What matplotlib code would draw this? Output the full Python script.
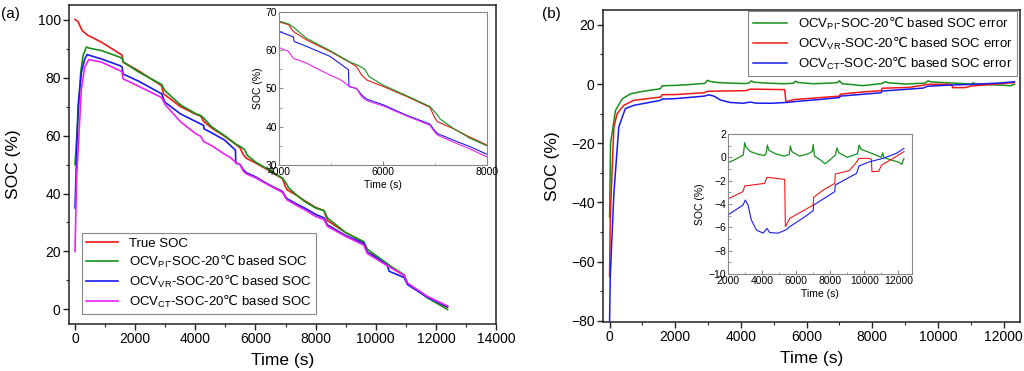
import numpy as np
import matplotlib
matplotlib.use('Agg')
import matplotlib.pyplot as plt
from matplotlib.ticker import MultipleLocator

# --- Fonts ---
plt.rcParams['font.family'] = ['Liberation Sans', 'DejaVu Sans']
plt.rcParams['mathtext.fontset'] = 'custom'
plt.rcParams['mathtext.rm'] = 'Liberation Sans'
plt.rcParams['mathtext.it'] = 'Liberation Sans:italic'
plt.rcParams['mathtext.bf'] = 'Liberation Sans:bold'
plt.rcParams['mathtext.sf'] = 'DejaVu Sans'   # only used for the degree-Celsius sign
plt.rcParams['mathtext.default'] = 'rm'

# --- Colours (Origin style) ---
RED = '#f01818'
GREEN = '#16901a'
BLUE = '#1a1af0'
MAGENTA = '#f020f0'

# --- Panel (a): SOC estimates ---
t_true = [0, 100, 233, 433, 878, 1489, 1560, 1600, 2100, 2878, 2940, 3500, 4000,
          4180, 4275, 4530, 4980, 5365, 5490, 5590, 5690, 6010, 6455, 6900, 7000,
          7050, 7350, 7670, 8000, 8278, 8389, 9000, 9600, 9720, 10000, 10500,
          10944, 11056, 11722, 12389]
soc_true = [100, 99.3, 96.2, 94.5, 92.2, 88.2, 87.8, 85.3, 82.4, 77.2, 74.4, 70.0, 67.4,
            66.7, 64.9, 62.7, 59.7, 56.8, 55.7, 53.5, 52.2, 50.5, 47.9, 45.1, 42.2,
            41.3, 39.5, 37.3, 35.2, 34.1, 30.7, 26.5, 23.2, 19.8, 18.3, 14.6,
            11.7, 8.8, 4.3, 0.8]

t_pi = [0, 78, 189, 267, 378, 478, 878, 1489, 1560, 1620, 2100, 2878, 2980, 3500,
        4000, 4180, 4290, 4530, 4980, 5365, 5530, 5650, 5725, 6010, 6455, 6900,
        7040, 7100, 7350, 7670, 8000, 8278, 8400, 9000, 9600, 9720, 10000, 10500,
        10944, 11056, 11722, 12389]
soc_pi = [50, 63, 81.8, 87.6, 90.5, 90.1, 89.3, 87.0, 86.6, 85.2, 82.0, 77.6, 75.6, 70.6,
          67.6, 66.9, 65.9, 63.1, 59.9, 56.9, 56.0, 55.0, 53.2, 50.8, 48.1, 45.3,
          43.2, 42.0, 39.6, 37.0, 35.0, 34.1, 31.5, 26.5, 23.4, 20.8, 18.7, 14.9,
          12.0, 9.0, 4.0, 0.0]

t_vr = [0, 100, 211, 322, 400, 878, 1489, 1560, 1600, 2100, 2878, 2989, 3500, 4000,
        4275, 4290, 4530, 4980, 5335, 5345, 5490, 5590, 5690, 6010, 6455, 6900,
        7000, 7050, 7350, 7670, 8000, 8278, 8389, 9000, 9600, 9720, 10000, 10380,
        10444, 10944, 11056, 11722, 12389]
soc_vr = [35, 70, 81.8, 86.4, 87.9, 86.4, 84.1, 83.7, 81.2, 78.8, 74.4, 71.5, 67.5, 64.9,
          63.5, 62.3, 61.0, 58.4, 54.9, 50.5, 50.0, 48.3, 47.2, 45.7, 43.0, 40.7,
          38.9, 38.2, 36.5, 34.8, 32.8, 31.6, 29.2, 25.5, 22.8, 19.7, 18.0, 15.3,
          13.2, 11.0, 8.6, 4.2, 0.9]

t_ct = [0, 50, 211, 322, 456, 878, 1489, 1560, 1600, 1833, 2878, 3000, 3500, 4000,
        4180, 4275, 4530, 4980, 5167, 5365, 5490, 5590, 5690, 6010, 6455, 6900,
        7000, 7050, 7350, 7670, 8000, 8278, 8389, 9000, 9600, 9720, 10000, 10500,
        10944, 11056, 11722, 12389]
soc_ct = [20, 45, 76, 83.6, 86.2, 85.3, 82.4, 82.0, 79.5, 78.4, 73.1, 70.6, 64.8, 60.7,
          59.7, 57.9, 56.6, 53.5, 52.4, 50.5, 50.0, 47.8, 46.8, 45.4, 42.8, 40.4,
          38.5, 37.8, 36.0, 34.2, 32.1, 31.0, 28.7, 25.2, 22.2, 19.3, 17.5, 14.4,
          11.8, 9.1, 4.5, 1.2]

# --- Panel (b): SOC errors ---
t_err_pi = [0, 30, 180, 385, 640, 1000, 1550, 1600, 2000, 2400, 2900, 2980, 3050, 3300,
            3800, 4150, 4250, 4310, 4400, 4800, 5300, 5600, 5660, 5750, 6200, 6700,
            6950, 7000, 7080, 7400, 7700, 8000, 8300, 8400, 8500, 9000, 9600, 9700,
            9800, 10500, 11000, 11080, 11150, 11500, 12000, 12200, 12330]
err_pi = [-45, -20, -8.9, -5, -3.3, -2.5, -1.6, -0.6, -0.46, -0.2, 0.2, 1.26, 0.9, 0.5,
          0.25, 0.15, 0.4, 1.06, 0.6, 0.3, 0.1, 0.25, 0.97, 0.5, 0.1, 0.3,
          0.5, 1.1, 0.1, -0.2, -0.55, -0.2, 0.2, 0.8, 0.4, 0.0, 0.3, 1.06,
          0.7, 0.3, 0.0, 0.4, 0.0, -0.2, -0.4, -0.6, -0.1]

t_err_vr = [0, 20, 130, 230, 430, 740, 1550, 1600, 2000, 2880, 2980, 4150, 4290, 5330,
            5370, 5630, 6510, 7000, 7030, 7590, 8270, 8300, 9120, 9610, 9680, 10300,
            10420, 10450, 10840, 11020, 11530, 12330]
err_vr = [-65, -45, -14.5, -10, -7.2, -5.5, -4.4, -3.6, -3.57, -2.94, -2.46, -2.23, -1.71,
          -1.89, -5.94, -5.23, -4.5, -4.1, -3.43, -2.8, -2.23, -1.43, -1.14, -0.29,
          -0.09, -0.09, -0.2, -1.23, -1.2, -0.66, -0.23, 0.49]

t_err_ct = [0, 20, 130, 280, 480, 740, 1550, 1600, 2000, 2880, 3020, 3180, 3370, 3670,
            4060, 4290, 4450, 4940, 5430, 5630, 6510, 7000, 7030, 8270, 8300, 9550,
            9690, 10330, 11100, 11880, 12330]
err_ct = [-80, -65, -37, -14.5, -8.3, -7.2, -5.5, -5.1, -4.94, -4.09, -3.66, -4.1, -5.37,
          -6.23, -6.5, -6.1, -6.45, -6.5, -6.2, -5.94, -5.1, -4.57, -4.09, -2.94,
          -2.37, -1.37, -0.74, -0.37, -0.09, 0.34, 0.77]

DEGC = r'$\mathsf{\u2103}$'.replace(r'\u2103', '\u2103')
lab_a = ['True SOC',
         'OCV$_{PI}$-SOC-20' + DEGC + ' based SOC',
         'OCV$_{VR}$-SOC-20' + DEGC + ' based SOC',
         'OCV$_{CT}$-SOC-20' + DEGC + ' based SOC']
lab_b = ['OCV$_{PI}$-SOC-20' + DEGC + ' based SOC error',
         'OCV$_{VR}$-SOC-20' + DEGC + ' based SOC error',
         'OCV$_{CT}$-SOC-20' + DEGC + ' based SOC error']


def style_main(ax):
    for s in ax.spines.values():
        s.set_linewidth(1.1)
        s.set_color('#222222')
    ax.tick_params(which='both', direction='out', top=False, right=False,
                   labelsize=10, pad=2, color='#222222')
    ax.tick_params(which='major', length=4, width=1)
    ax.tick_params(which='minor', length=2.5, width=0.8)


def style_inset(ax):
    for s in ax.spines.values():
        s.set_linewidth(0.8)
        s.set_color('#888888')
    ax.tick_params(which='both', direction='in', top=False, right=False,
                   labelsize=7.5, pad=1.5, color='#888888')
    ax.tick_params(which='major', length=3, width=0.7)
    ax.tick_params(which='minor', length=1.8, width=0.6)


fig = plt.figure(figsize=(10.24, 3.71), dpi=100)

# --- Panel (a) ---
ax1 = fig.add_axes([0.0674, 0.1267, 0.417, 0.8598])
ax1.plot(t_true, soc_true, color=RED, lw=1.2, label=lab_a[0])
ax1.plot(t_pi, soc_pi, color=GREEN, lw=1.2, label=lab_a[1])
ax1.plot(t_vr, soc_vr, color=BLUE, lw=1.2, label=lab_a[2])
ax1.plot(t_ct, soc_ct, color=MAGENTA, lw=1.2, label=lab_a[3])
ax1.set_xlim(-200, 14000)
ax1.set_ylim(-5, 105)
ax1.xaxis.set_major_locator(MultipleLocator(2000))
ax1.xaxis.set_minor_locator(MultipleLocator(1000))
ax1.yaxis.set_major_locator(MultipleLocator(20))
ax1.yaxis.set_minor_locator(MultipleLocator(10))
ax1.set_xlabel('Time (s)', fontsize=12.5, labelpad=5)
ax1.set_ylabel('SOC (%)', fontsize=12.5, labelpad=12)
style_main(ax1)
leg = ax1.legend(loc='lower left', bbox_to_anchor=(0.03, 0.03), borderaxespad=0,
                 fontsize=9.5, fancybox=False, framealpha=1, edgecolor='#888888',
                 handlelength=2.4, labelspacing=0.3, borderpad=0.35)
leg.get_frame().set_linewidth(0.8)
fig.text(0.001, 0.962, '(a)', fontsize=11, va='center')

# inset (a)
ax1i = fig.add_axes([0.2725, 0.5553, 0.2031, 0.4124])
ax1i.plot(t_true, soc_true, color=RED, lw=0.8)
ax1i.plot(t_pi, soc_pi, color=GREEN, lw=0.8)
ax1i.plot(t_vr, soc_vr, color=BLUE, lw=0.8)
ax1i.plot(t_ct, soc_ct, color=MAGENTA, lw=0.8)
ax1i.set_xlim(4000, 8000)
ax1i.set_ylim(30, 70)
ax1i.xaxis.set_major_locator(MultipleLocator(2000))
ax1i.xaxis.set_minor_locator(MultipleLocator(1000))
ax1i.yaxis.set_major_locator(MultipleLocator(10))
ax1i.yaxis.set_minor_locator(MultipleLocator(5))
ax1i.set_xlabel('Time (s)', fontsize=7.5, labelpad=2)
ax1i.set_ylabel('SOC (%)', fontsize=7.5, labelpad=2)
style_inset(ax1i)

# --- Panel (b) ---
ax2 = fig.add_axes([0.5889, 0.132, 0.4072, 0.841])
ax2.plot(t_err_pi, err_pi, color=GREEN, lw=1.1, label=lab_b[0])
ax2.plot(t_err_vr, err_vr, color=RED, lw=1.1, label=lab_b[1])
ax2.plot(t_err_ct, err_ct, color=BLUE, lw=1.1, label=lab_b[2])
ax2.set_xlim(-200, 12500)
ax2.set_ylim(-80.4, 25)
ax2.xaxis.set_major_locator(MultipleLocator(2000))
ax2.xaxis.set_minor_locator(MultipleLocator(1000))
ax2.yaxis.set_major_locator(MultipleLocator(20))
ax2.yaxis.set_minor_locator(MultipleLocator(10))
ax2.set_xlabel('Time (s)', fontsize=12.5, labelpad=5)
ax2.set_ylabel('SOC (%)', fontsize=12.5, labelpad=8)
style_main(ax2)
leg2 = ax2.legend(loc='upper right', bbox_to_anchor=(0.993, 0.997), borderaxespad=0,
                  fontsize=9.5, fancybox=False, framealpha=1, edgecolor='#888888',
                  handlelength=2.6, labelspacing=0.3, borderpad=0.35)
leg2.get_frame().set_linewidth(0.8)
fig.text(0.529, 0.962, '(b)', fontsize=11, va='center')

# inset (b)
ax2i = fig.add_axes([0.7109, 0.2615, 0.1797, 0.3773])
ax2i.plot(t_err_pi, err_pi, color=GREEN, lw=0.9)
ax2i.plot(t_err_vr, err_vr, color=RED, lw=0.8)
ax2i.plot(t_err_ct, err_ct, color=BLUE, lw=0.8)
ax2i.set_xlim(2000, 12800)
ax2i.set_ylim(-10, 2)
ax2i.xaxis.set_major_locator(MultipleLocator(2000))
ax2i.xaxis.set_minor_locator(MultipleLocator(1000))
ax2i.yaxis.set_major_locator(MultipleLocator(2))
ax2i.yaxis.set_minor_locator(MultipleLocator(1))
ax2i.set_xlabel('Time (s)', fontsize=7.5, labelpad=2)
ax2i.set_ylabel('SOC (%)', fontsize=7.5, labelpad=2)
style_inset(ax2i)

fig.savefig('out.png', dpi=100)
